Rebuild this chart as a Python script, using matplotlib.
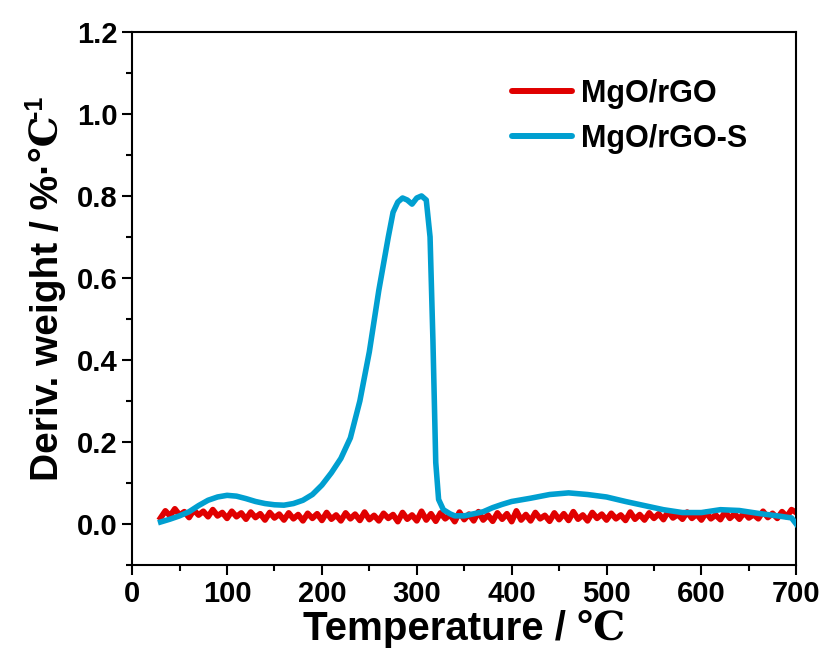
import matplotlib
matplotlib.use("Agg")
import matplotlib.pyplot as plt
from matplotlib.ticker import MultipleLocator, FormatStrFormatter

plt.rcParams['font.family'] = ['Liberation Sans', 'DejaVu Serif']
plt.rcParams['font.weight'] = 'bold'

# MgO/rGO-S derivative weight curve
temp_s = [30, 40, 50, 60, 70, 80, 90, 100, 110, 120, 130, 140, 150, 160, 170, 180,
          190, 200, 210, 220, 230, 240, 250, 260, 270, 275, 280, 285, 290, 295, 300,
          305, 310, 314, 317, 320, 323, 328, 335, 340, 350, 360, 370, 380, 390, 400,
          420, 440, 460, 480, 500, 520, 540, 560, 580, 600, 620, 640, 660, 680, 695, 700]
deriv_s = [0.005, 0.012, 0.02, 0.03, 0.045, 0.058, 0.066, 0.07, 0.068, 0.062, 0.055,
           0.05, 0.047, 0.046, 0.05, 0.058, 0.072, 0.095, 0.125, 0.16, 0.21, 0.30, 0.42,
           0.57, 0.70, 0.76, 0.785, 0.795, 0.79, 0.78, 0.795, 0.80, 0.79, 0.70, 0.45,
           0.15, 0.06, 0.035, 0.025, 0.02, 0.02, 0.025, 0.03, 0.04, 0.048, 0.055, 0.063,
           0.072, 0.076, 0.072, 0.066, 0.055, 0.045, 0.035, 0.028, 0.028, 0.035, 0.033,
           0.026, 0.02, 0.015, 0.0]

# MgO/rGO derivative weight curve (noisy baseline)
temp_r = list(range(30, 701, 5))
deriv_r = [0.015, 0.032, 0.020, 0.037, 0.022, 0.030, 0.016, 0.034, 0.022, 0.031,
           0.018, 0.035, 0.020, 0.028, 0.014, 0.031, 0.018, 0.027, 0.012, 0.029,
           0.016, 0.025, 0.010, 0.028, 0.015, 0.024, 0.010, 0.027, 0.013, 0.023,
           0.008, 0.026, 0.014, 0.025, 0.009, 0.028, 0.012, 0.022, 0.008, 0.027,
           0.013, 0.024, 0.009, 0.029, 0.011, 0.021, 0.008, 0.026, 0.014, 0.023,
           0.006, 0.028, 0.012, 0.022, 0.008, 0.031, 0.010, 0.025, 0.007, 0.027,
           0.013, 0.023, 0.006, 0.029, 0.011, 0.024, 0.008, 0.030, 0.010, 0.022,
           0.007, 0.027, 0.012, 0.025, 0.006, 0.032, 0.010, 0.023, 0.008, 0.028,
           0.013, 0.021, 0.007, 0.027, 0.011, 0.025, 0.009, 0.030, 0.012, 0.022,
           0.008, 0.028, 0.014, 0.024, 0.010, 0.026, 0.013, 0.022, 0.009, 0.029,
           0.012, 0.023, 0.010, 0.027, 0.014, 0.025, 0.011, 0.031, 0.015, 0.023,
           0.012, 0.029, 0.014, 0.024, 0.010, 0.028, 0.013, 0.022, 0.011, 0.030,
           0.014, 0.025, 0.012, 0.028, 0.015, 0.023, 0.013, 0.031, 0.016, 0.026,
           0.014, 0.030, 0.018, 0.035, 0.028]

labels = ['MgO/rGO', 'MgO/rGO-S']
colors = ['#e00000', '#009fd0']

fig = plt.figure(figsize=(8.26, 6.64), dpi=100)
ax = fig.add_axes([0.160, 0.149, 0.804, 0.803])

ax.plot(temp_r, deriv_r, color=colors[0], lw=4.2, label=labels[0], zorder=2)
ax.plot(temp_s, deriv_s, color=colors[1], lw=4.0, label=labels[1], zorder=3,
        solid_joinstyle='round')

ax.set_xlim(0, 700)
ax.set_ylim(-0.1, 1.2)
ax.xaxis.set_major_locator(MultipleLocator(100))
ax.xaxis.set_minor_locator(MultipleLocator(50))
ax.yaxis.set_major_locator(MultipleLocator(0.2))
ax.yaxis.set_minor_locator(MultipleLocator(0.1))
ax.yaxis.set_major_formatter(FormatStrFormatter('%.1f'))
ax.tick_params(which='both', direction='out', top=False, right=False, width=1.5)
ax.tick_params(which='major', length=7, labelsize=21)
ax.tick_params(which='minor', length=4)
for s in ax.spines.values():
    s.set_linewidth(1.5)

ax.set_xlabel('Temperature / ℃', fontsize=29, fontweight='bold', labelpad=2)
ax.set_ylabel('Deriv. weight / %·℃', fontsize=28, fontweight='bold', labelpad=8)

leg = ax.legend(loc='upper left', frameon=False, fontsize=22, handlelength=1.95,
                handletextpad=0.3, borderpad=0, borderaxespad=0,
                bbox_to_anchor=((512 - 132) / 664, (565 - 79) / 533),
                labelspacing=0.48)
for line in leg.get_lines():
    line.set_linewidth(4.3)
    line.set_solid_capstyle('round')

# superscript exponent on the y-axis unit
fig.canvas.draw()
bb = ax.yaxis.label.get_window_extent()
fig.text(bb.x0 - 6, bb.y1 - 2, '-1', rotation=90, fontsize=18, fontweight='bold',
         ha='left', va='bottom', transform=None)

fig.savefig('out.png', dpi=100)
